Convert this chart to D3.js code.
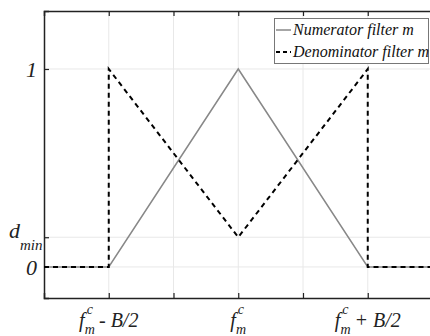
<!DOCTYPE html>
<html><head><meta charset="utf-8">
<script src="https://cdn.jsdelivr.net/npm/d3@7"></script>
<style>body{margin:0;background:#fff}svg{display:block}</style>
</head><body>
<svg id="c" width="430" height="336"></svg>
<script>
const dmin = 0.15;
const xTicks = [1, 2, 3, 4, 5];
const yTicks = [0, dmin, 1];
const numX = [0, 1, 3, 5, 6];
const numY = [0, 0, 1, 0, 0];
const denX = [0, 1, 1, 3, 5, 5, 6];
const denY = [0, 0, 1, dmin, 1, 0, 0];
const seriesNames = ["Numerator filter m", "Denominator filter m"];
const xLabelSuffix = ["- B/2", "", "+ B/2"];
const xLabelAt = [1, 3, 5];

const svg = d3.select("#c");
const L = 44, T = 11, B = 298;
const x = d3.scaleLinear().domain([0, 6]).range([L, L + 6 * 64.75]);
const y = d3.scaleLinear().domain([-0.157, 1.293]).range([B, T]);
const R = x(6);
const FONT = "Liberation Serif, Times New Roman, serif";

// grid
const g = svg.append("g");
g.selectAll(".vg").data(xTicks).join("line")
  .attr("x1", d => x(d)).attr("x2", d => x(d)).attr("y1", T).attr("y2", B)
  .attr("stroke", "#e8e8e8").attr("stroke-width", 1);
g.selectAll(".hg").data(yTicks).join("line")
  .attr("y1", d => y(d)).attr("y2", d => y(d)).attr("x1", L).attr("x2", R)
  .attr("stroke", "#e8e8e8").attr("stroke-width", 1);

// axes
const axB = d3.axisBottom(x).tickValues(xTicks).tickSize(-5).tickFormat("");
const axT = d3.axisTop(x).tickValues(xTicks).tickSize(-5).tickFormat("");
const axL = d3.axisLeft(y).tickValues(yTicks).tickSize(-5).tickFormat("");
[[axB, `translate(0,${B})`], [axT, `translate(0,${T})`], [axL, `translate(${L},0)`]].forEach(([a, t]) => {
  const s = svg.append("g").attr("transform", t).call(a);
  s.select(".domain").attr("stroke", "#222").attr("stroke-width", 1.5);
  s.selectAll(".tick line").attr("stroke", "#222").attr("stroke-width", 1.2);
});

// lines
const line = d3.line().x(d => x(d[0])).y(d => y(d[1]));
svg.append("path").datum(numX.map((v, i) => [v, numY[i]]))
  .attr("d", line).attr("fill", "none").attr("stroke", "#888").attr("stroke-width", 1.5);
svg.append("path").datum(denX.map((v, i) => [v, denY[i]]))
  .attr("d", line).attr("fill", "none").attr("stroke", "#000").attr("stroke-width", 2)
  .attr("stroke-dasharray", "5,4");

// y labels
const yl = svg.append("g").style("font-family", FONT).style("font-style", "italic").attr("fill", "#222");
yl.append("text").attr("x", 37).attr("y", y(1) + 8).attr("text-anchor", "end").attr("font-size", 22).text("1");
yl.append("text").attr("x", 37).attr("y", y(0) + 8).attr("text-anchor", "end").attr("font-size", 22).text("0");
const dt = yl.append("text").attr("x", 9).attr("y", y(dmin) + 1).attr("font-size", 22);
dt.append("tspan").text("d");
dt.append("tspan").attr("font-size", 15).attr("dx", 0).attr("dy", 12).text("min");

// x labels
xLabelAt.forEach((v, i) => {
  const suf = xLabelSuffix[i];
  const t = svg.append("text").style("font-family", FONT).style("font-style", "italic")
    .attr("fill", "#222").attr("y", 327).attr("font-size", 20).attr("text-anchor", "middle")
    .attr("x", x(v));
  t.append("tspan").text("f");
  t.append("tspan").attr("font-size", 14).attr("dy", -13).attr("dx", 2).text("c");
  t.append("tspan").attr("font-size", 14).attr("dy", 20).attr("dx", -8).text("m");
  if (suf) t.append("tspan").attr("dy", -7).attr("dx", 4).text(suf);
});

// legend
const lg = svg.append("g");
lg.append("rect").attr("x", 274.5).attr("y", 18.5).attr("width", 154).attr("height", 45)
  .attr("fill", "#fff").attr("stroke", "#777").attr("stroke-width", 1);
[[0, "#888", null, 1.5], [1, "#000", "4,3", 2]].forEach(([i, c, da, w]) => {
  const yy = 30 + i * 22;
  lg.append("line").attr("x1", 276).attr("x2", 291).attr("y1", yy).attr("y2", yy)
    .attr("stroke", c).attr("stroke-width", w).attr("stroke-dasharray", da);
  lg.append("text").attr("x", 293).attr("y", yy + 5).style("font-family", FONT)
    .style("font-style", "italic").attr("font-size", 16).attr("fill", "#111").text(seriesNames[i]);
});
</script>
</body></html>
